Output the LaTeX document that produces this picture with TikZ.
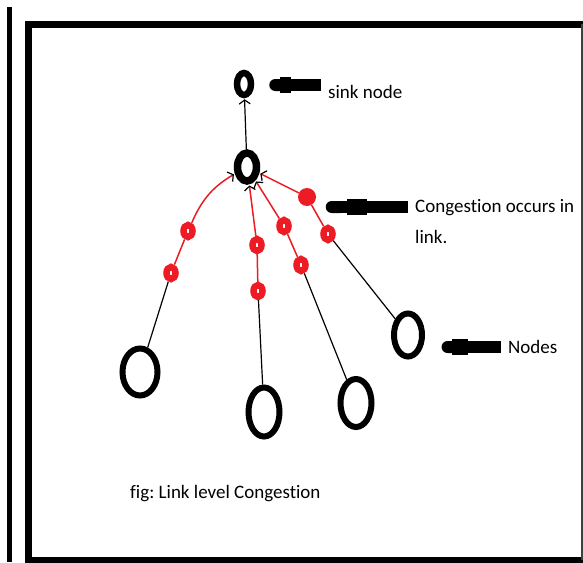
\documentclass[tikz,border=0pt]{standalone}
\usepackage{fontspec}
\setmainfont{Carlito}[Ligatures=NoCommon]
\usetikzlibrary{shapes.geometric,arrows.meta}
\definecolor{paintred}{RGB}{237,28,36}
\frenchspacing

\begin{document}
\begin{tikzpicture}[x=1pt,y=-1pt,
  nd/.style={ellipse,draw,line width=6pt,inner sep=0pt},
  ring/.style={ellipse,draw=paintred,line width=6.5pt,inner sep=0pt,minimum width=9pt,minimum height=12pt},
  dot/.style={circle,fill=paintred,inner sep=0pt,minimum size=18pt},
  lnk/.style={line width=1.2pt},
  rlnk/.style={paintred,line width=1.5pt},
  barb/.style={-{Straight Barb[color=black,length=4pt,width=11pt,line width=1.2pt]},shorten >=1pt},
  pen/.style 2 args={line width=12pt,-{Round Cap[]},postaction={draw,-,line width=16pt,shorten <=#1,shorten >=#2}},
  lbl/.style={anchor=west,inner xsep=7pt,inner ysep=0pt,font=\fontsize{19}{31}\selectfont,align=left}]
  \useasboundingbox (0,0) rectangle (583,562);
  \draw[line width=5pt] (9.5,7) -- (9.5,562);
  \draw[line width=7pt] (583,24) -- (28.5,24) -- (28.5,560.5) -- (583,560.5);
  \draw[line width=1.5pt,black!75] (582,24) -- (582,560);

  \node[nd,line width=6.5pt,minimum width=14pt,minimum height=22pt] (s) at (244,84) {};
  \node[nd,line width=7.5pt,minimum width=19pt,minimum height=28pt] (h) at (247,167) {};
  \node[ring] (r1a) at (188,231) {};
  \node[ring] (r1b) at (171,273) {};
  \node[ring] (r2a) at (257,245) {};
  \node[ring] (r2b) at (258,291) {};
  \node[ring] (r3a) at (284,226) {};
  \node[ring] (r3b) at (301,265) {};
  \node[dot] (r4a) at (307,197) {};
  \node[ring] (r4b) at (328,234) {};
  \node[nd,minimum width=35pt,minimum height=47pt] (n1) at (140,372) {};
  \node[nd,minimum width=31pt,minimum height=49pt] (n2) at (264,412) {};
  \node[nd,minimum width=31pt,minimum height=48pt] (n3) at (356,403) {};
  \node[nd,minimum width=28pt,minimum height=43pt] (n4) at (408,335) {};

  \node[lbl] (ls) at (321,92) {sink node};
  \node[lbl] (lc) at (408,222) {Congestion occurs in\\link.};
  \node[lbl] (ln) at (501,347) {Nodes};
  \node[lbl,inner xsep=0pt] (cap) at (130,494) {fig: Link level Congestion};

  \draw[lnk] (n1) -- (r1b);
  \draw[rlnk] (r1b) -- (r1a);
  \draw[rlnk,barb] (r1a) to[bend left=18] (h);
  \draw[lnk] (n2) -- (r2b);
  \draw[rlnk] (r2b) -- (r2a);
  \draw[rlnk,barb] (r2a) -- (h);
  \draw[lnk] (n3) -- (r3b);
  \draw[rlnk] (r3b) -- (r3a);
  \draw[rlnk,barb] (r3a) -- (h);
  \draw[lnk] (n4) -- (r4b);
  \draw[rlnk] (r4b) -- (r4a);
  \draw[rlnk,barb] (r4a) -- (h);
  \draw[lnk,barb] (h) -- (s);

  \draw[pen={30pt}{11pt}] ([yshift=7pt]ls.west) -- ([xshift=15pt,yshift=-1pt]s.east);
  \draw[pen={41pt}{21pt}] ([yshift=15pt]lc.west) -- ([xshift=9.5pt,yshift=-10pt]r4a.east);
  \draw[pen={33pt}{10pt}] (ln.west) -- ([xshift=16.5pt,yshift=-12pt]n4.east);
\end{tikzpicture}
\end{document}
